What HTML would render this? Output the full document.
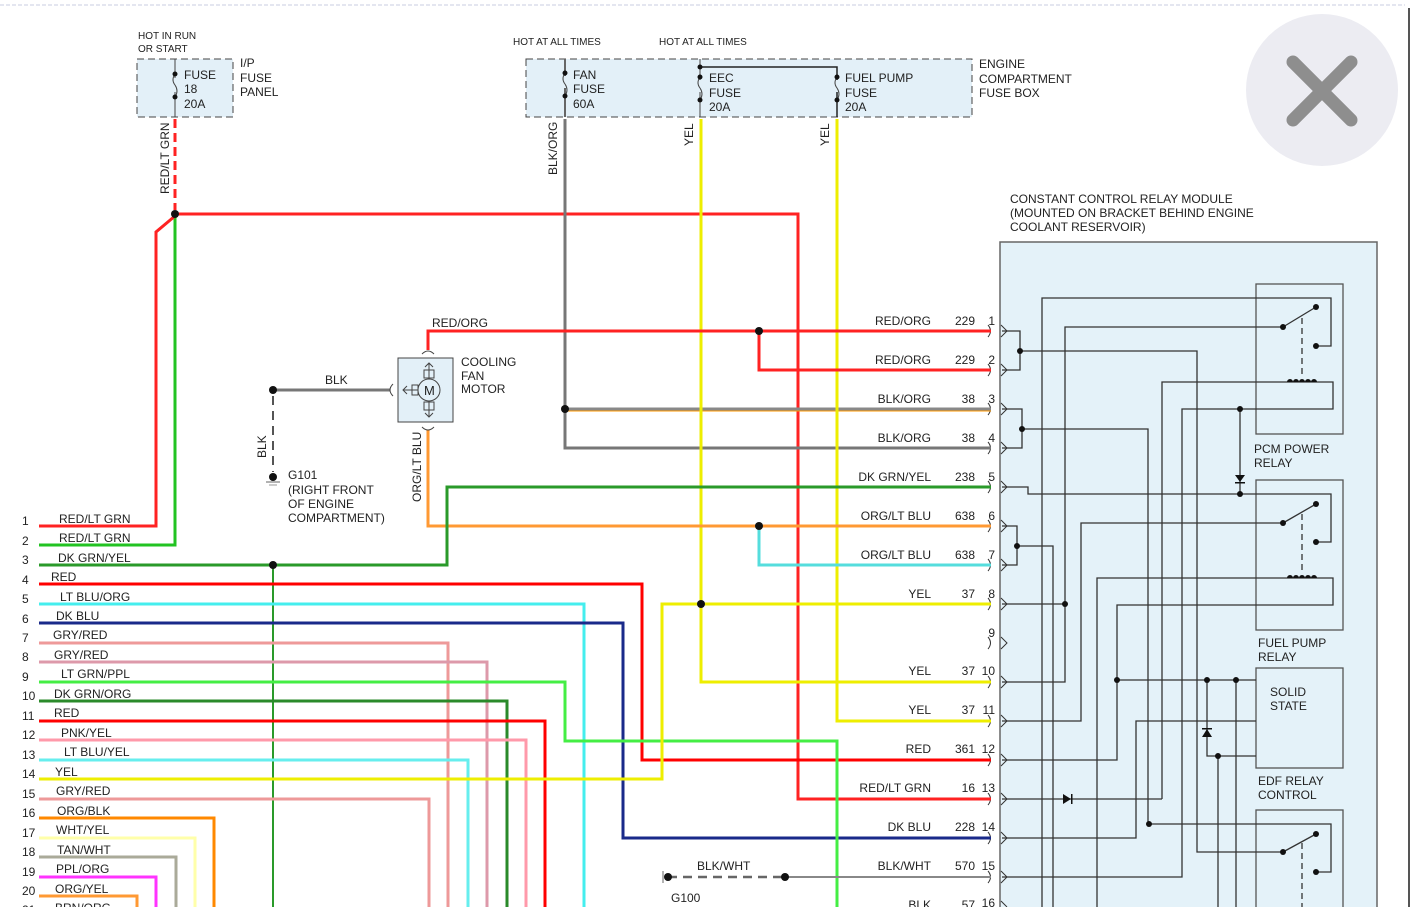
<!DOCTYPE html>
<html><head><meta charset="utf-8"><style>
html,body{margin:0;padding:0;background:#fff}
svg{display:block}
text{font-family:"Liberation Sans",Arial,sans-serif;font-size:12px;fill:#222}
.s{font-size:10px}
.w{fill:none;stroke-width:3;stroke-linejoin:miter}
.k{fill:none;stroke:#333;stroke-width:1.3}
</style></head><body>
<svg width="1412" height="907" viewBox="0 0 1412 907" xmlns="http://www.w3.org/2000/svg">
<line x1="0" y1="5" x2="1405" y2="5" stroke="#c8cce0" stroke-dasharray="4 2"/>
<line x1="1409" y1="8" x2="1409" y2="907" stroke="#555" stroke-width="2"/>
<circle cx="1322" cy="90" r="76" fill="#ececf2"/>
<path d="M1293 62 L1351 120 M1351 62 L1293 120" stroke="#8e8e8e" stroke-width="13" stroke-linecap="round"/>

<!-- top fuse boxes -->
<text class="s" x="138" y="39">HOT IN RUN</text><text class="s" x="138" y="52">OR START</text>
<rect x="137" y="59" width="96" height="58" fill="#e3f0f8" stroke="#444" stroke-dasharray="7 4"/>
<line x1="175" y1="59" x2="175" y2="117" stroke="#444"/>
<rect x="172" y="78" width="6" height="14" fill="#e3f0f8"/>
<path d="M175 74 q-4 6 0 11 q4 6 0 12" fill="none" stroke="#444"/>
<circle cx="175" cy="74" r="2.5" fill="#111"/><circle cx="175" cy="97" r="2.5" fill="#111"/>
<text x="184" y="79">FUSE</text><text x="184" y="93">18</text><text x="184" y="108">20A</text>
<text x="240" y="67">I/P</text><text x="240" y="82">FUSE</text><text x="240" y="96">PANEL</text>

<text class="s" x="513" y="45">HOT AT ALL TIMES</text><text class="s" x="659" y="45">HOT AT ALL TIMES</text>
<rect x="526" y="59" width="446" height="58" fill="#e3f0f8" stroke="#444" stroke-dasharray="7 4"/>
<line x1="565" y1="59" x2="565" y2="117" stroke="#666" stroke-width="2"/>
<line x1="700" y1="59" x2="700" y2="117" stroke="#444"/>
<polyline points="700,67 837,67 837,117" fill="none" stroke="#222" stroke-width="1.5"/>
<circle cx="700" cy="67" r="2.5" fill="#111"/>
<g fill="#e3f0f8"><rect x="561" y="76" width="8" height="12"/><rect x="696" y="80" width="8" height="12"/><rect x="833" y="80" width="8" height="12"/></g>
<g fill="none" stroke="#444"><path d="M565 73 q-4 6 0 11 q4 6 0 12"/><path d="M700 77 q-4 6 0 11 q4 6 0 12"/><path d="M837 77 q-4 6 0 11 q4 6 0 12"/></g>
<g fill="#111"><circle cx="565" cy="73" r="2.5"/><circle cx="565" cy="96" r="2.5"/><circle cx="700" cy="77" r="2.5"/><circle cx="700" cy="100" r="2.5"/><circle cx="837" cy="77" r="2.5"/><circle cx="837" cy="100" r="2.5"/></g>
<text x="573" y="79">FAN</text><text x="573" y="93">FUSE</text><text x="573" y="108">60A</text>
<text x="709" y="82">EEC</text><text x="709" y="97">FUSE</text><text x="709" y="111">20A</text>
<text x="845" y="82">FUEL PUMP</text><text x="845" y="97">FUSE</text><text x="845" y="111">20A</text>
<text x="979" y="68">ENGINE</text><text x="979" y="83">COMPARTMENT</text><text x="979" y="97">FUSE BOX</text>

<text transform="translate(169,194) rotate(-90)">RED/LT GRN</text>
<text transform="translate(557,175) rotate(-90)">BLK/ORG</text>
<text transform="translate(693,146) rotate(-90)">YEL</text>
<text transform="translate(829,146) rotate(-90)">YEL</text>
<line x1="175" y1="119" x2="175" y2="210" stroke="#f22" stroke-width="3" stroke-dasharray="9 5"/>

<!-- module -->
<text x="1010" y="203">CONSTANT CONTROL RELAY MODULE</text>
<text x="1010" y="217">(MOUNTED ON BRACKET BEHIND ENGINE</text>
<text x="1010" y="231">COOLANT RESERVOIR)</text>
<rect x="1000" y="242" width="377" height="670" fill="#e4f2f9" stroke="#666" stroke-width="1.5"/>
<g fill="#e4f2f9" stroke="#555" stroke-width="1.3">
<rect x="1256" y="284" width="87" height="150"/><rect x="1256" y="480" width="87" height="150"/>
<rect x="1256" y="668" width="87" height="100"/><rect x="1256" y="810" width="87" height="110"/>
</g>
<text x="1254" y="453">PCM POWER</text><text x="1254" y="467">RELAY</text>
<text x="1258" y="647">FUEL PUMP</text><text x="1258" y="661">RELAY</text>
<text x="1270" y="696">SOLID</text><text x="1270" y="710">STATE</text>
<text x="1258" y="785">EDF RELAY</text><text x="1258" y="799">CONTROL</text>

<g class="k">
<polyline points="1002,331 1020,331 1020,370 1002,370"/>
<polyline points="1020,351 1197,351 1197,852 1283,852"/>
<polyline points="1002,409 1022,409 1022,448 1002,448"/>
<polyline points="1022,429 1148,429 1148,824 1331,824 1331,872 1316,872"/>
<polyline points="1002,487 1028,487 1028,494 1331,494 1331,542 1316,542"/>
<polyline points="1042,907 1042,298 1331,298 1331,346 1316,346"/>
<polyline points="1283,327 1065,327 1065,682 1002,682"/>
<line x1="1002" y1="604" x2="1065" y2="604"/>
<polyline points="1162,799 1162,382 1333,382 1333,409 1182,409 1182,877 1002,877"/>
<line x1="1002" y1="799" x2="1162" y2="799"/>
<line x1="1240" y1="409" x2="1240" y2="494"/>
<polyline points="1283,523 1081,523 1081,721 1002,721"/>
<polyline points="1097,907 1097,578 1333,578 1333,605 1117,605 1117,760 1002,760"/>
<polyline points="1002,526 1017,526 1017,565 1002,565"/>
<polyline points="1017,546 1053,546 1053,907"/>
<line x1="1117" y1="680" x2="1256" y2="680"/>
<line x1="1236" y1="680" x2="1236" y2="907"/>
<polyline points="1207,680 1207,756 1256,756"/>
<line x1="1218" y1="756" x2="1218" y2="907"/>
<polyline points="1256,721 1136,721 1136,838 1002,838"/>
<line x1="1283" y1="327" x2="1316" y2="307"/><line x1="1283" y1="523" x2="1316" y2="504"/><line x1="1283" y1="852" x2="1316" y2="834"/>
<g stroke-dasharray="6 4"><line x1="1302" y1="318" x2="1302" y2="378"/><line x1="1302" y1="514" x2="1302" y2="574"/><line x1="1302" y1="843" x2="1302" y2="907"/></g>
</g>
<g fill="#111">
<circle cx="1020" cy="351" r="3"/><circle cx="1022" cy="429" r="3"/><circle cx="1240" cy="409" r="3"/><circle cx="1240" cy="494" r="3"/>
<circle cx="1065" cy="604" r="3"/><circle cx="1017" cy="546" r="3"/><circle cx="1117" cy="680" r="3"/><circle cx="1207" cy="680" r="3"/><circle cx="1236" cy="680" r="3"/><circle cx="1218" cy="756" r="3"/><circle cx="1149" cy="824" r="3"/>
<circle cx="1283" cy="327" r="3"/><circle cx="1316" cy="307" r="3"/><circle cx="1316" cy="346" r="3"/>
<circle cx="1283" cy="523" r="3"/><circle cx="1316" cy="504" r="3"/><circle cx="1316" cy="542" r="3"/>
<circle cx="1283" cy="852" r="3"/><circle cx="1316" cy="834" r="3"/><circle cx="1316" cy="872" r="3"/>
<path d="M1287 382 a3 3 0 0 1 6 0 a3 3 0 0 1 6 0 a3 3 0 0 1 6 0 a3 3 0 0 1 6 0 a3 3 0 0 1 6 0z"/>
<path d="M1287 578 a3 3 0 0 1 6 0 a3 3 0 0 1 6 0 a3 3 0 0 1 6 0 a3 3 0 0 1 6 0 a3 3 0 0 1 6 0z"/>
<path d="M1235 475 h10 l-5 7z"/><rect x="1235" y="482" width="10" height="1.5"/>
<path d="M1202 737 h10 l-5 -8z"/><rect x="1202" y="728" width="10" height="1.5"/>
<path d="M1063 794 v10 l8 -5z"/><rect x="1071" y="794" width="1.5" height="10"/>
</g>

<!-- connector pins -->
<g fill="none" stroke="#333" stroke-width="1">
<path d="M1001 325 l6 6 l-6 6 M1001 364 l6 6 l-6 6 M1001 403 l6 6 l-6 6 M1001 442 l6 6 l-6 6 M1001 481 l6 6 l-6 6 M1001 520 l6 6 l-6 6 M1001 559 l6 6 l-6 6 M1001 598 l6 6 l-6 6 M1001 637 l6 6 l-6 6 M1001 676 l6 6 l-6 6 M1001 715 l6 6 l-6 6 M1001 754 l6 6 l-6 6 M1001 793 l6 6 l-6 6 M1001 832 l6 6 l-6 6 M1001 871 l6 6 l-6 6 M1001 901 l6 6"/>
<path d="M988 325 q5 6 0 12 M988 364 q5 6 0 12 M988 403 q5 6 0 12 M988 442 q5 6 0 12 M988 481 q5 6 0 12 M988 520 q5 6 0 12 M988 559 q5 6 0 12 M988 598 q5 6 0 12 M988 637 q5 6 0 12 M988 676 q5 6 0 12 M988 715 q5 6 0 12 M988 754 q5 6 0 12 M988 793 q5 6 0 12 M988 832 q5 6 0 12 M988 871 q5 6 0 12"/>
</g>

<!-- wires -->
<polyline class="w" stroke="#22c322" points="175,216 175,545 39,545"/>
<polyline class="w" stroke="#f22" points="175,214 798,214 798,799 991,799"/>
<polyline class="w" stroke="#f22" points="175,216 156,232 156,526 39,526"/>
<polyline class="w" stroke="#777" points="565,119 565,448 991,448"/>
<line x1="565" y1="409" x2="991" y2="409" stroke="#888" stroke-width="3"/>
<line x1="565" y1="411" x2="991" y2="411" stroke="#f90" stroke-width="1"/>
<polyline class="w" stroke="#ee0" points="701,119 701,682 991,682"/>
<polyline class="w" stroke="#ee0" points="837,119 837,721 991,721"/>
<polyline class="w" stroke="#f22" points="428,350 428,331 991,331"/>
<polyline class="w" stroke="#f22" points="759,331 759,370 991,370"/>
<polyline class="w" stroke="#f93" points="428,430 428,526 991,526"/>
<polyline class="w" stroke="#5dd" points="759,526 759,565 991,565"/>
<polyline fill="none" stroke="#777" stroke-width="3" points="273,390 390,390"/>
<line x1="273" y1="396" x2="273" y2="472" stroke="#555" stroke-width="2" stroke-dasharray="9 6"/>
<polyline class="w" stroke="#2a9a2a" points="39,565 447,565 447,487 991,487"/>
<line x1="273" y1="565" x2="273" y2="907" stroke="#2a9a2a" stroke-width="2"/>
<polyline class="w" stroke="#f00" points="39,584 642,584 642,760 991,760"/>
<polyline class="w" stroke="#4ee" points="39,604 584,604 584,907"/>
<polyline class="w" stroke="#1a2a8a" points="39,623 623,623 623,838 991,838"/>
<polyline class="w" stroke="#e99" points="39,643 448,643 448,907"/>
<polyline class="w" stroke="#d9a" points="39,662 487,662 487,907"/>
<polyline class="w" stroke="#4e4" points="39,682 565,682 565,741 837,741 837,907"/>
<polyline class="w" stroke="#2a8a2a" points="39,701 507,701 507,907"/>
<polyline class="w" stroke="#f00" points="39,721 545,721 545,907"/>
<polyline class="w" stroke="#f9a" points="39,740 526,740 526,907"/>
<polyline class="w" stroke="#6ee" points="39,760 468,760 468,907"/>
<polyline class="w" stroke="#ee0" points="39,779 662,779 662,604 991,604"/>
<polyline class="w" stroke="#e99" points="39,799 429,799 429,907"/>
<polyline class="w" stroke="#f80" points="39,818 214,818 214,907"/>
<polyline class="w" stroke="#ffa" points="39,838 195,838 195,907"/>
<polyline class="w" stroke="#aa9" points="39,857 176,857 176,907"/>
<polyline class="w" stroke="#f3f" points="39,877 156,877 156,907"/>
<polyline class="w" stroke="#f93" points="39,896 137,896 137,907"/>
<line x1="668" y1="877" x2="785" y2="877" stroke="#666" stroke-width="2.5" stroke-dasharray="9 6"/>
<line x1="785" y1="877" x2="991" y2="877" stroke="#888" stroke-width="2"/>
<line x1="663" y1="871" x2="663" y2="883" stroke="#666"/>

<g fill="#111">
<circle cx="175" cy="214" r="4"/><circle cx="759" cy="331" r="4"/><circle cx="565" cy="409" r="4"/><circle cx="759" cy="526" r="4"/>
<circle cx="273" cy="565" r="4"/><circle cx="701" cy="604" r="4"/><circle cx="273" cy="390" r="4"/><circle cx="273" cy="477" r="4"/>
<circle cx="668" cy="877" r="4"/><circle cx="785" cy="877" r="4"/>
</g>
<line x1="266" y1="482" x2="280" y2="482" stroke="#666"/><line x1="269" y1="485" x2="277" y2="485" stroke="#999"/>

<!-- motor -->
<rect x="398" y="358" width="55" height="64" fill="#e3f0f8" stroke="#444"/>
<circle cx="429" cy="390" r="11" fill="#e3f0f8" stroke="#444"/>
<text x="424" y="395" style="font-size:13px">M</text>
<g fill="none" stroke="#444"><path d="M429 379 v-16 M425 367 l4 -4 l4 4 M429 401 v16 M425 413 l4 4 l4 -4 M418 390 h-15 M407 386 l-4 4 l4 4 M424 370 h10 v8 h-10z M424 402 h10 v8 h-10z M412 385 h6 v10 h-6z"/>
<path d="M422 354 q6 -6 12 0 M422 427 q6 6 12 0 M393 384 q-6 6 0 12"/></g>
<text x="461" y="366">COOLING</text><text x="461" y="380">FAN</text><text x="461" y="393">MOTOR</text>
<text x="432" y="327">RED/ORG</text>
<text x="325" y="384">BLK</text>
<text transform="translate(266,458) rotate(-90)">BLK</text>
<text transform="translate(421,502) rotate(-90)">ORG/LT BLU</text>
<text x="288" y="479">G101</text><text x="288" y="494">(RIGHT FRONT</text><text x="288" y="508">OF ENGINE</text><text x="288" y="522">COMPARTMENT)</text>
<text x="697" y="870">BLK/WHT</text><text x="671" y="902">G100</text>

<!-- right labels -->
<g text-anchor="end">
<text x="931" y="325">RED/ORG</text><text x="975" y="325">229</text><text x="995" y="325">1</text>
<text x="931" y="364">RED/ORG</text><text x="975" y="364">229</text><text x="995" y="364">2</text>
<text x="931" y="403">BLK/ORG</text><text x="975" y="403">38</text><text x="995" y="403">3</text>
<text x="931" y="442">BLK/ORG</text><text x="975" y="442">38</text><text x="995" y="442">4</text>
<text x="931" y="481">DK GRN/YEL</text><text x="975" y="481">238</text><text x="995" y="481">5</text>
<text x="931" y="520">ORG/LT BLU</text><text x="975" y="520">638</text><text x="995" y="520">6</text>
<text x="931" y="559">ORG/LT BLU</text><text x="975" y="559">638</text><text x="995" y="559">7</text>
<text x="931" y="598">YEL</text><text x="975" y="598">37</text><text x="995" y="598">8</text>
<text x="995" y="637">9</text>
<text x="931" y="675">YEL</text><text x="975" y="675">37</text><text x="995" y="675">10</text>
<text x="931" y="714">YEL</text><text x="975" y="714">37</text><text x="995" y="714">11</text>
<text x="931" y="753">RED</text><text x="975" y="753">361</text><text x="995" y="753">12</text>
<text x="931" y="792">RED/LT GRN</text><text x="975" y="792">16</text><text x="995" y="792">13</text>
<text x="931" y="831">DK BLU</text><text x="975" y="831">228</text><text x="995" y="831">14</text>
<text x="931" y="870">BLK/WHT</text><text x="975" y="870">570</text><text x="995" y="870">15</text>
<text x="931" y="909">BLK</text><text x="975" y="909">57</text><text x="995" y="907">16</text>
</g>

<!-- left labels -->
<g>
<text x="22" y="525">1</text><text x="59" y="523">RED/LT GRN</text>
<text x="22" y="545">2</text><text x="59" y="542">RED/LT GRN</text>
<text x="22" y="564">3</text><text x="58" y="562">DK GRN/YEL</text>
<text x="22" y="584">4</text><text x="51" y="581">RED</text>
<text x="22" y="603">5</text><text x="60" y="601">LT BLU/ORG</text>
<text x="22" y="623">6</text><text x="56" y="620">DK BLU</text>
<text x="22" y="642">7</text><text x="53" y="639">GRY/RED</text>
<text x="22" y="661">8</text><text x="54" y="659">GRY/RED</text>
<text x="22" y="681">9</text><text x="61" y="678">LT GRN/PPL</text>
<text x="22" y="700">10</text><text x="54" y="698">DK GRN/ORG</text>
<text x="22" y="720">11</text><text x="54" y="717">RED</text>
<text x="22" y="739">12</text><text x="61" y="737">PNK/YEL</text>
<text x="22" y="759">13</text><text x="64" y="756">LT BLU/YEL</text>
<text x="22" y="778">14</text><text x="55" y="776">YEL</text>
<text x="22" y="798">15</text><text x="56" y="795">GRY/RED</text>
<text x="22" y="817">16</text><text x="57" y="815">ORG/BLK</text>
<text x="22" y="837">17</text><text x="56" y="834">WHT/YEL</text>
<text x="22" y="856">18</text><text x="57" y="854">TAN/WHT</text>
<text x="22" y="876">19</text><text x="56" y="873">PPL/ORG</text>
<text x="22" y="895">20</text><text x="55" y="893">ORG/YEL</text>
<text x="22" y="914">21</text><text x="55" y="912">BRN/ORG</text>
</g>
</svg>
</body></html>
